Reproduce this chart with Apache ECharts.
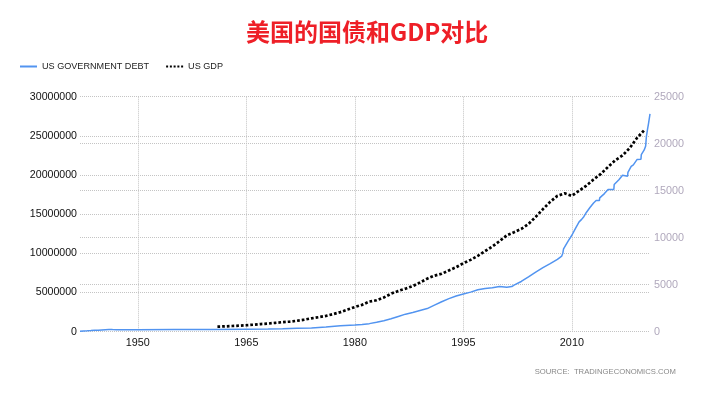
<!DOCTYPE html>
<html>
<head>
<meta charset="utf-8">
<script src="https://cdn.jsdelivr.net/npm/echarts@6/dist/echarts.min.js"></script>
<style>html,body{margin:0;padding:0;background:#fff;}#c{width:706px;height:394px;}</style>
</head>
<body>
<div id="c"></div>
<script>
// US government debt (USD million), dated by fractional year
const debtDates = [1942.0, 1942.5, 1943.0, 1943.5, 1944.0, 1944.5, 1945.0, 1945.5, 1946.0, 1946.5, 1947.0, 1950.0, 1955.0, 1960.0, 1965.0, 1968.0, 1970.0, 1972.0, 1974.0, 1976.0, 1978.0, 1980.0, 1981.0, 1982.0, 1983.0, 1984.0, 1985.0, 1986.0, 1987.0, 1988.0, 1989.0, 1990.0, 1991.0, 1992.0, 1993.0, 1994.0, 1995.0, 1996.0, 1997.0, 1998.0, 1999.0, 2000.0, 2001.0, 2001.7, 2002.0, 2003.0, 2004.0, 2005.0, 2006.0, 2007.0, 2008.0, 2008.6, 2008.75, 2008.85, 2009.0, 2009.5, 2010.0, 2010.5, 2011.0, 2011.35, 2011.6, 2011.65, 2012.0, 2012.5, 2013.0, 2013.35, 2013.8, 2013.85, 2014.5, 2015.0, 2015.2, 2015.8, 2015.85, 2016.5, 2017.0, 2017.2, 2017.7, 2017.75, 2018.2, 2018.5, 2019.0, 2019.2, 2019.55, 2019.6, 2020.0, 2020.2, 2020.3, 2020.45, 2020.6, 2020.8];
const debtValues = [72000, 95000, 112000, 140000, 170000, 200000, 232000, 260000, 278000, 268000, 259000, 257000, 280000, 290000, 320000, 345000, 380000, 425000, 470000, 600000, 770000, 850000, 930000, 1030000, 1200000, 1410000, 1660000, 1950000, 2240000, 2440000, 2700000, 2950000, 3400000, 3830000, 4220000, 4560000, 4810000, 5050000, 5350000, 5520000, 5610000, 5780000, 5660000, 5760000, 5940000, 6410000, 7000000, 7600000, 8170000, 8680000, 9230000, 9650000, 10020000, 10570000, 10700000, 11600000, 12310000, 13200000, 14020000, 14340000, 14340000, 14680000, 15220000, 15850000, 16430000, 16740000, 16740000, 17080000, 17630000, 18140000, 18150000, 18150000, 18800000, 19400000, 19980000, 19850000, 19850000, 20350000, 21100000, 21300000, 21970000, 22030000, 22030000, 22600000, 23200000, 23700000, 24900000, 25800000, 26600000, 27800000];

// US GDP (USD billion), annual, plotted at the end of each year
const gdpYears = [1960, 1961, 1962, 1963, 1964, 1965, 1966, 1967, 1968, 1969, 1970, 1971, 1972, 1973, 1974, 1975, 1976, 1977, 1978, 1979, 1980, 1981, 1982, 1983, 1984, 1985, 1986, 1987, 1988, 1989, 1990, 1991, 1992, 1993, 1994, 1995, 1996, 1997, 1998, 1999, 2000, 2001, 2002, 2003, 2004, 2005, 2006, 2007, 2008, 2009, 2010, 2011, 2012, 2013, 2014, 2015, 2016, 2017, 2018, 2019];
const gdpValues = [543, 563, 605, 638, 685, 743, 815, 862, 943, 1019, 1073, 1165, 1279, 1425, 1545, 1685, 1873, 2082, 2352, 2627, 2857, 3207, 3343, 3634, 4037, 4339, 4580, 4855, 5236, 5642, 5963, 6158, 6520, 6859, 7287, 7640, 8073, 8577, 9063, 9631, 10252, 10582, 10936, 11458, 12214, 13037, 13815, 14452, 14713, 14449, 14992, 15543, 16197, 16785, 17527, 18238, 18745, 19543, 20612, 21433];

const xTicks = [1950, 1965, 1980, 1995, 2010];
const titleText = '美国的国债和GDP对比';
const seriesNames = ['US GOVERNMENT DEBT', 'US GDP'];
const sourceText = 'SOURCE:  TRADINGECONOMICS.COM';

const debtData = debtDates.map((d, i) => [d, debtValues[i]]);
const gdpData = gdpYears.map((y, i) => [y + 1, gdpValues[i]]);

const plain = v => String(v);
const chart = echarts.init(document.getElementById('c'), null, {renderer: 'canvas'});
const gridLine = {show: true, lineStyle: {type: 'dotted', color: '#c4c4c4', width: 1}};
chart.setOption({
  animation: false,
  backgroundColor: '#fff',
  title: {
    text: titleText, left: 241, top: 15,
    textStyle: {fontFamily: 'Noto Sans CJK SC', fontWeight: 'bold', fontSize: 24, color: '#ee1f27'}
  },
  legend: {
    left: 15, top: 57, itemWidth: 17, itemHeight: 2.4, itemGap: 17,
    textStyle: {fontFamily: 'Liberation Sans', fontSize: 9.1, color: '#222', padding: [0, 0, 0, 0]},
    data: [
      {name: seriesNames[0], icon: 'path://M0,0H17V2H0Z'},
      {name: seriesNames[1], icon: 'path://M0,0h2v2h-2zM3.75,0h2v2h-2zM7.5,0h2v2h-2zM11.25,0h2v2h-2zM15,0h2v2h-2z'}
    ]
  },
  graphic: [{
    type: 'text', right: 30, top: 368,
    style: {text: sourceText, fontFamily: 'Liberation Sans', fontSize: 7.7, fill: '#888'}
  }],
  grid: {left: 80, right: 56, top: 96.7, bottom: 62.3},
  xAxis: {
    type: 'value', min: 1942, max: 2020.8,
    axisLine: {show: false},
    axisTick: {show: false, customValues: xTicks},
    axisLabel: {customValues: xTicks, formatter: plain, fontFamily: 'Liberation Sans', fontSize: 10.8, color: '#111', margin: 6},
    splitLine: gridLine
  },
  yAxis: [{
    type: 'value', min: 0, max: 30000000, interval: 5000000,
    axisLine: {show: false}, axisTick: {show: false},
    axisLabel: {formatter: plain, fontFamily: 'Liberation Sans', fontSize: 10.6, color: '#111', margin: 3},
    splitLine: gridLine
  }, {
    type: 'value', min: 0, max: 25000, interval: 5000, position: 'right',
    axisLine: {show: false}, axisTick: {show: false},
    axisLabel: {formatter: plain, fontFamily: 'Liberation Sans', fontSize: 10.8, color: '#b0a8bc', margin: 4},
    splitLine: gridLine
  }],
  series: [{
    name: seriesNames[0], type: 'line', yAxisIndex: 0, data: debtData,
    symbol: 'none', smooth: false,
    lineStyle: {color: '#5294f0', width: 1.5}, itemStyle: {color: '#5294f0'}
  }, {
    name: seriesNames[1], type: 'line', yAxisIndex: 1, data: gdpData,
    symbol: 'none', smooth: false,
    lineStyle: {color: '#000', width: 2.7, type: [2.7, 2]}, itemStyle: {color: '#000'}
  }]
});
</script>
</body>
</html>
